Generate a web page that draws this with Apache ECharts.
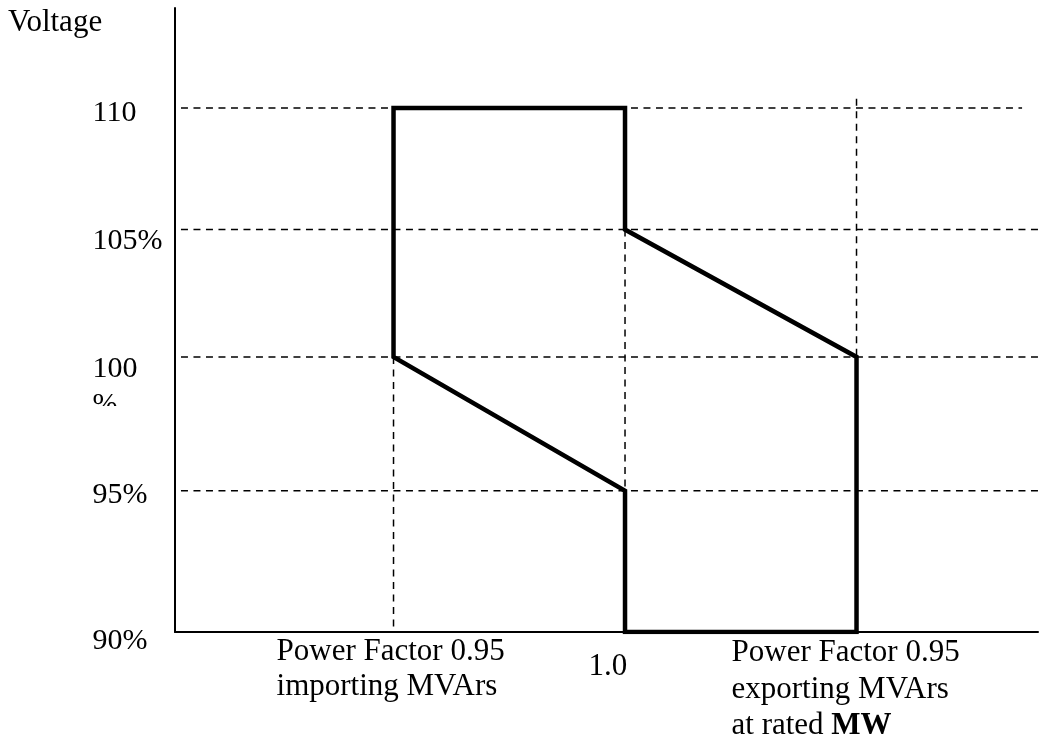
<!DOCTYPE html>
<html>
<head>
<meta charset="utf-8">
<script src="https://cdn.jsdelivr.net/npm/echarts@6/dist/echarts.min.js"></script>
<style>
html,body{margin:0;padding:0;background:#fff;}
#c{width:1058px;height:742px;}
</style>
</head>
<body>
<div id="c"></div>
<script>
// ---- data ----
// reactive power ratio (MVAr / MW) at PF 0.95 importing, unity, PF 0.95 exporting
const pfPositions = [-0.33, 0, 0.33];
const xTickLabels = [
  'Power Factor 0.95\nimporting MVArs',
  '1.0',
  'Power Factor 0.95\nexporting MVArs\nat rated {b|MW}'
];
const voltageLevels = [110, 105, 100, 95, 90];
const yTickLabels = ['110', '105%', '100\n%', '95%', '90%'];
// operating envelope (reactive ratio, voltage %)
const envelopeQ = [-0.33, 0, 0, 0.33, 0.33, 0, 0, -0.33, -0.33];
const envelopeV = [110, 110, 105, 100, 90, 90, 95, 100, 110];
// dashed reference verticals: [q, from V, to V]
const guideQ = [-0.33, 0, 0.33];
const guideFrom = [100, 105, 110.4];
const guideTo = [90, 90, 100];

// ---- layout / style ----
const X_MIN = -0.6415, X_MAX = 0.5887;
const Y_MIN = 90, Y_MAX = 114.3;
const FONT = '"Liberation Serif", "Times New Roman", serif';
const dash = [7, 5.5];
const hStart = -0.633;
const hEnd = [0.566, 0.5887, 0.5887, 0.5887];
// label offsets (px) relative to the anchor point
const yLabelLayout = [
  {dy: -9.3, lh: 30},
  {dy: -3.2, lh: 30},
  {dy: -5, lh: 36},
  {dy: -10.4, lh: 30},
  {dy: -5.5, lh: 30}
];
const xLabelLayout = [
  {dx: -116.5, dy: 3, lh: 35},
  {dx: -36, dy: 20, lh: 31},
  {dx: -124.5, dy: 3.5, lh: 36.5}
];

const chart = echarts.init(document.getElementById('c'), null, {renderer: 'canvas'});

const series = [];

// horizontal dashed grid lines (exclude axis level 90)
voltageLevels.slice(0, 4).forEach((v, i) => {
  series.push({
    type: 'line', silent: true, symbol: 'none', z: 2,
    data: [[hStart, v], [hEnd[i], v]],
    lineStyle: {color: '#000', width: 1.5, type: dash}
  });
});
// vertical dashed lines
guideQ.forEach((q, i) => {
  series.push({
    type: 'line', silent: true, symbol: 'none', z: 2,
    data: [[q, guideFrom[i]], [q, guideTo[i]]],
    lineStyle: {color: '#000', width: 1.5, type: dash}
  });
});
// envelope
series.push({
  type: 'line', silent: true, symbol: 'none', z: 5,
  data: envelopeQ.map((q, i) => [q, envelopeV[i]]),
  lineStyle: {color: '#000', width: 4.5, join: 'miter', cap: 'square'}
});
// y tick labels
series.push({
  type: 'scatter', silent: true, clip: false, symbolSize: 1, z: 6,
  itemStyle: {color: 'rgba(0,0,0,0)', opacity: 1},
  data: voltageLevels.map((v, i) => ({
    value: [X_MIN, v],
    label: {
      show: true,
      formatter: yTickLabels[i],
      position: [-82, yLabelLayout[i].dy],
      align: 'left', verticalAlign: 'top',
      fontFamily: FONT, fontSize: 30, color: '#000',
      lineHeight: yLabelLayout[i].lh
    }
  }))
});
// x tick labels
series.push({
  type: 'scatter', silent: true, clip: false, symbolSize: 1, z: 6,
  itemStyle: {color: 'rgba(0,0,0,0)', opacity: 1},
  data: pfPositions.map((q, i) => ({
    value: [q, Y_MIN],
    label: {
      show: true,
      formatter: xTickLabels[i],
      position: [xLabelLayout[i].dx, xLabelLayout[i].dy],
      align: 'left', verticalAlign: 'top',
      fontFamily: FONT, fontSize: 31, color: '#000',
      lineHeight: xLabelLayout[i].lh,
      rich: {
        b: {fontFamily: FONT, fontSize: 31, fontWeight: 'bold', color: '#000', lineHeight: xLabelLayout[i].lh}
      }
    }
  }))
});

chart.setOption({
  animation: false,
  backgroundColor: '#fff',
  grid: {left: 175, right: 20, top: 8, bottom: 110, containLabel: false},
  xAxis: {
    type: 'value', min: X_MIN, max: X_MAX,
    axisLine: {show: true, onZero: false, lineStyle: {color: '#000', width: 2}},
    axisTick: {show: false}, axisLabel: {show: false}, splitLine: {show: false}
  },
  yAxis: {
    type: 'log', logBase: 10, min: Y_MIN, max: Y_MAX,
    axisLine: {show: true, onZero: false, lineStyle: {color: '#000', width: 2}},
    axisTick: {show: false}, axisLabel: {show: false}, splitLine: {show: false}
  },
  series: series
});

// mask the lower half of the wrapped "%" under the 100 label
const p100 = chart.convertToPixel({gridIndex: 0}, [X_MIN, 100]);
chart.setOption({
  graphic: [
    {
      type: 'text', left: 8, top: 7, z: 10,
      style: {text: 'Voltage', font: '31px ' + FONT, fill: '#000'}
    },
    {
      type: 'rect', z: 100, silent: true,
      shape: {x: 85, y: p100[1] + 49, width: 40, height: 22},
      style: {fill: '#fff'}
    }
  ]
});
</script>
</body>
</html>
